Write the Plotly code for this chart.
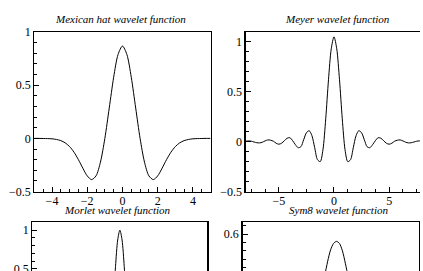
import plotly.graph_objects as go

# ---------------- data ----------------
mex_x = [-5.0, -4.75, -4.5, -4.25, -4.0, -3.75, -3.5, -3.25, -3.0, -2.75, -2.5, -2.25, -2.0, -1.75, -1.5, -1.25,
         -1.0, -0.75, -0.5, -0.25, 0.0, 0.25, 0.5, 0.75, 1.0, 1.25, 1.5, 1.75, 2.0, 2.25, 2.5, 2.75, 3.0,
         3.25, 3.5, 3.75, 4.0, 4.25, 4.5, 4.75, 5.0]
mex_y = [0.0, 0.0, -0.001, -0.002, -0.004, -0.010, -0.021, -0.042, -0.077, -0.130, -0.200, -0.280, -0.352,
         -0.387, -0.352, -0.223, 0.0, 0.286, 0.574, 0.788, 0.867, 0.788, 0.574, 0.286, 0.0, -0.223, -0.352,
         -0.387, -0.352, -0.280, -0.200, -0.130, -0.077, -0.042, -0.021, -0.010, -0.004, -0.002, -0.001, 0.0, 0.0]

mey_x = [-8.0, -7.75, -7.5, -7.25, -7.0, -6.75, -6.5, -6.25, -6.0, -5.75, -5.5, -5.25, -5.0, -4.75, -4.5,
         -4.25, -4.0, -3.75, -3.5, -3.25, -3.0, -2.75, -2.5, -2.25, -2.0, -1.75, -1.5, -1.25, -1.0, -0.75,
         -0.5, -0.25, 0.0, 0.25, 0.5, 0.75, 1.0, 1.25, 1.5, 1.75, 2.0, 2.25, 2.5, 2.75, 3.0, 3.25, 3.5, 3.75,
         4.0, 4.25, 4.5, 4.75, 5.0, 5.25, 5.5, 5.75, 6.0, 6.25, 6.5, 6.75, 7.0, 7.25, 7.5, 7.75, 8.0]
mey_y = [0.005, 0.008, 0.005, -0.003, -0.010, -0.012, -0.005, 0.008, 0.018, 0.015, 0.005, -0.015, -0.025,
         -0.015, 0.010, 0.035, 0.040, 0.010, -0.030, -0.060, -0.050, 0.020, 0.090, 0.110, 0.060, -0.060,
         -0.180, -0.200, -0.080, 0.230, 0.620, 0.930, 1.050, 0.930, 0.620, 0.230, -0.080, -0.200, -0.180,
         -0.060, 0.060, 0.110, 0.090, 0.020, -0.050, -0.060, -0.030, 0.010, 0.040, 0.035, 0.010, -0.015,
         -0.025, -0.015, 0.005, 0.015, 0.018, 0.008, -0.005, -0.012, -0.010, -0.003, 0.005, 0.008, 0.005]

mor_x = [-4.0, -3.9, -3.8, -3.7, -3.6, -3.5, -3.4, -3.3, -3.2, -3.1, -3.0, -2.9, -2.8, -2.7, -2.6, -2.5,
         -2.4, -2.3, -2.2, -2.1, -2.0, -1.9, -1.8, -1.7, -1.6, -1.5, -1.4, -1.3, -1.2, -1.1, -1.0, -0.9,
         -0.8, -0.7, -0.6, -0.5, -0.4, -0.3, -0.2, -0.1, 0.0, 0.1, 0.2, 0.3, 0.4, 0.5, 0.6, 0.7, 0.8, 0.9,
         1.0, 1.1, 1.2, 1.3, 1.4, 1.5, 1.6, 1.7, 1.8, 1.9, 2.0, 2.1, 2.2, 2.3, 2.4, 2.5, 2.6, 2.7, 2.8, 2.9,
         3.0, 3.1, 3.2, 3.3, 3.4, 3.5, 3.6, 3.7, 3.8, 3.9, 4.0]
mor_y = [0.0, 0.0, 0.0, 0.001, 0.001, 0.0, -0.001, -0.003, -0.006, -0.008, -0.008, -0.005, 0.003, 0.016,
         0.031, 0.044, 0.047, 0.034, 0.0, -0.052, -0.114, -0.164, -0.180, -0.142, -0.040, 0.113, 0.283,
         0.420, 0.467, 0.387, 0.172, -0.141, -0.475, -0.733, -0.827, -0.707, -0.384, 0.068, 0.530, 0.873,
         1.0, 0.873, 0.530, 0.068, -0.384, -0.707, -0.827, -0.733, -0.475, -0.141, 0.172, 0.387, 0.467,
         0.420, 0.283, 0.113, -0.040, -0.142, -0.180, -0.164, -0.114, -0.052, 0.0, 0.034, 0.047, 0.044,
         0.031, 0.016, 0.003, -0.005, -0.008, -0.008, -0.006, -0.003, -0.001, 0.0, 0.001, 0.001, 0.0, 0.0, 0.0]

sym_x = [0.0, 0.25, 0.5, 0.75, 1.0, 1.25, 1.5, 1.75, 2.0, 2.25, 2.5, 2.75, 3.0, 3.25, 3.5, 3.75, 4.0, 4.25,
         4.5, 4.75, 5.0, 5.25, 5.5, 5.75, 6.0, 6.25, 6.5, 6.75, 7.0, 7.25, 7.5, 7.75, 8.0, 8.25, 8.5, 8.75,
         9.0, 9.25, 9.5, 9.75, 10.0, 10.25, 10.5, 10.75, 11.0, 11.25, 11.5, 11.75, 12.0, 12.25, 12.5, 12.75,
         13.0, 13.25, 13.5, 13.75, 14.0, 14.25, 14.5, 14.75, 15.0]
sym_y = [0.0, 0.0, 0.0, 0.001, 0.002, 0.003, 0.0, -0.008, -0.020, -0.030, -0.030, -0.015, 0.020, 0.060,
         0.080, 0.070, 0.040, 0.0, -0.060, -0.150, -0.210, -0.220, -0.190, -0.120, -0.030, 0.080, 0.200,
         0.310, 0.400, 0.470, 0.525, 0.555, 0.565, 0.555, 0.520, 0.460, 0.390, 0.290, 0.170, 0.050, -0.060,
         -0.150, -0.210, -0.235, -0.220, -0.170, -0.100, -0.030, 0.030, 0.060, 0.070, 0.060, 0.035, 0.010,
         -0.010, -0.020, -0.018, -0.010, -0.004, 0.0, 0.0]

titles = ["Mexican hat wavelet function", "Meyer wavelet function",
          "Morlet wavelet function", "Sym8 wavelet function"]

# ---------------- layout ----------------
W, H = 423, 440
FONT = "Liberation Serif, Times New Roman, serif"


def px_x(p):
    return p / W


def px_y(p):
    return 1 - p / H


fig = go.Figure()
series = [(mex_x, mex_y), (mey_x, mey_y), (mor_x, mor_y), (sym_x, sym_y)]
for i, (xs, ys) in enumerate(series):
    sfx = "" if i == 0 else str(i + 1)
    fig.add_trace(go.Scatter(x=xs, y=ys, mode="lines", xaxis="x" + sfx, yaxis="y" + sfx,
                             line=dict(color="black", width=1, shape="spline", smoothing=0.8),
                             showlegend=False, hoverinfo="skip"))

axis_common = dict(showgrid=False, zeroline=False, showline=True, linecolor="black", linewidth=1.3,
                   ticks="inside", ticklen=5, tickwidth=1, tickcolor="black",
                   tickfont=dict(family=FONT, size=12, color="black"))

# domains in page pixels: (left, right, top, bottom)
doms = [(29, 209, 25.7, 190.7), (245, 423, 25.7, 190.7),
        (27, 205.7, 222.5, 390.5), (241.7, 421.7, 222.5, 417.3)]
xranges = [[-5, 5], [-8, 7.8], [-4, 4], [0, 15]]
yranges = [[-0.5, 1.0], [-0.5, 1.1], [-1.0, 1.1], [-0.25, 0.656]]
xdt = [(2, 0.5), (5, 1.25), (2, 0.5), (5, 1)]
ydt = [(0.5, 0.1), (0.5, 0.1), (0.5, 0.1), (0.2, 0.04)]
ymirror = [True, False, True, True]

lay = {}
for i in range(4):
    sfx = "" if i == 0 else str(i + 1)
    l, r, t, b = doms[i]
    lay["xaxis" + sfx] = dict(axis_common, domain=[px_x(l), min(1.0, px_x(r))], range=xranges[i],
                              anchor="y" + sfx, dtick=xdt[i][0], tick0=0, mirror=True,
                              ticklabelstandoff=-2,
                              minor=dict(dtick=xdt[i][1], tick0=0, ticks="inside", ticklen=3,
                                         tickcolor="black", tickwidth=1))
    lay["yaxis" + sfx] = dict(axis_common, domain=[px_y(b), px_y(t)], range=yranges[i],
                              anchor="x" + sfx, dtick=ydt[i][0], tick0=0, mirror=ymirror[i],
                              minor=dict(dtick=ydt[i][1], tick0=0, ticks="inside", ticklen=3,
                                         tickcolor="black", tickwidth=1))

title_pos = [(117, 12.5), (339, 12.5), (114, 209.5), (340, 210)]
annotations = []
for (tx, ty), tt in zip(title_pos, titles):
    annotations.append(dict(text="<i>" + tt + "</i>", x=px_x(tx), y=px_y(ty), xref="paper", yref="paper",
                            xanchor="center", yanchor="middle", showarrow=False,
                            font=dict(family=FONT, size=11, color="black")))

fig.update_layout(width=W, height=H, margin=dict(l=0, r=0, t=0, b=0, pad=0),
                  paper_bgcolor="white", plot_bgcolor="white", annotations=annotations,
                  hovermode=False, **lay)

# remove the browser's default 8px page margin so figure pixels equal page pixels
fig.write_html("out.html", config={"displayModeBar": False, "staticPlot": True},
               post_script="document.body.style.margin='0px';")
